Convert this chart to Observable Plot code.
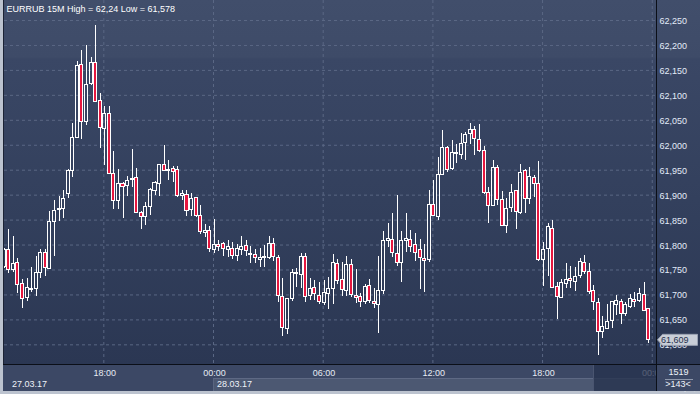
<!DOCTYPE html>
<html><head><meta charset="utf-8">
<script src="https://cdn.jsdelivr.net/npm/d3@7"></script>
<script src="https://cdn.jsdelivr.net/npm/@observablehq/plot@0.6"></script>
<style>
html,body{margin:0;padding:0;background:#bcc3cf;}
#chart{position:relative;width:700px;height:394px;overflow:hidden;background:#bcc3cf;font-family:"Liberation Sans",Arial,sans-serif;font-size:9px;}
.abs{position:absolute;box-sizing:border-box;}
.lbl{position:absolute;color:#eef2f8;font-size:9px;line-height:9px;white-space:nowrap;}
</style></head><body>
<div id="chart"></div>
<script>
// ---- data (EURRUB 15M candles, 27.03.17 12:30 -> 27.03/28.03 23:45) ----
const symbol = "EURRUB";
const timeframe = "15M";
const open = [61.757,61.791,61.749,61.765,61.721,61.693,61.709,61.711,61.743,61.785,
61.752,61.847,61.870,61.872,61.903,61.949,62.015,62.160,62.047,62.123,
62.165,62.088,62.033,62.063,61.943,61.889,61.923,61.919,61.930,61.935,
61.865,61.857,61.877,61.908,61.923,61.961,61.949,61.952,61.950,61.899,
61.901,61.871,61.894,61.858,61.825,61.829,61.791,61.800,61.803,61.791,
61.793,61.779,61.791,61.798,61.783,61.780,61.771,61.775,61.775,61.802,
61.775,61.695,61.631,61.691,61.743,61.740,61.777,61.697,61.713,61.698,
61.683,61.701,61.711,61.763,61.729,61.707,61.760,61.697,61.695,61.685,
61.717,61.685,61.679,61.708,61.809,61.811,61.783,61.765,61.809,61.811,
61.800,61.790,61.773,61.771,61.880,61.857,61.941,61.995,61.952,61.985,
61.981,62.005,62.023,62.031,62.011,61.989,61.905,61.879,61.955,61.890,
61.839,61.875,61.908,61.865,61.948,61.893,61.935,61.923,61.771,61.792,
61.833,61.716,61.693,61.721,61.731,61.725,61.737,61.765,61.745,61.707,
61.683,61.625,61.632,61.647,61.679,61.685,61.661,61.675,61.690,61.687,
61.700,61.671];
const high = [61.793,61.832,61.818,61.773,61.730,61.732,61.755,61.778,61.792,61.791,
61.867,61.889,61.898,61.909,61.951,62.044,62.168,62.189,62.200,62.175,
62.240,62.103,62.077,62.077,61.988,61.952,61.925,61.937,61.992,61.953,
61.868,61.885,61.913,61.927,61.962,62.000,61.969,61.958,61.958,61.910,
61.910,61.903,61.896,61.880,61.841,61.838,61.852,61.809,61.805,61.809,
61.805,61.801,61.818,61.809,61.798,61.791,61.793,61.800,61.818,61.814,
61.780,61.733,61.692,61.750,61.753,61.784,61.783,61.732,61.729,61.725,
61.729,61.735,61.781,61.772,61.765,61.778,61.771,61.750,61.703,61.721,
61.731,61.713,61.778,61.828,61.843,61.863,61.900,61.828,61.863,61.830,
61.823,61.812,61.801,61.910,61.930,61.975,62.030,61.997,62.010,62.002,
62.023,62.025,62.043,62.038,62.042,61.998,61.915,61.970,61.959,61.907,
61.893,61.922,61.909,61.962,61.952,61.956,61.940,61.967,61.805,61.843,
61.850,61.725,61.731,61.763,61.757,61.755,61.773,61.780,61.763,61.719,
61.693,61.657,61.681,61.687,61.699,61.690,61.685,61.701,61.705,61.712,
61.725,61.672];
const low = [61.753,61.742,61.745,61.703,61.673,61.687,61.705,61.697,61.733,61.737,
61.750,61.777,61.847,61.853,61.893,61.935,62.014,62.011,62.040,62.120,
62.085,61.993,61.960,61.942,61.871,61.871,61.853,61.897,61.915,61.864,
61.831,61.839,61.860,61.900,61.897,61.947,61.929,61.925,61.895,61.889,
61.858,61.858,61.856,61.822,61.815,61.785,61.783,61.787,61.777,61.775,
61.772,61.767,61.779,61.778,61.764,61.763,61.755,61.755,61.771,61.767,
61.685,61.617,61.620,61.687,61.715,61.713,61.685,61.689,61.689,61.680,
61.679,61.671,61.680,61.720,61.697,61.697,61.695,61.683,61.675,61.681,
61.683,61.673,61.623,61.701,61.795,61.775,61.757,61.725,61.785,61.785,
61.767,61.710,61.705,61.765,61.857,61.849,61.940,61.945,61.950,61.963,
61.971,61.970,62.001,61.979,61.985,61.902,61.843,61.877,61.879,61.837,
61.823,61.865,61.831,61.861,61.863,61.881,61.895,61.768,61.717,61.737,
61.712,61.651,61.692,61.712,61.713,61.707,61.732,61.740,61.701,61.669,
61.578,61.613,61.630,61.632,61.659,61.641,61.657,61.673,61.675,61.685,
61.666,61.602];
const close = [61.790,61.749,61.763,61.719,61.691,61.713,61.711,61.743,61.785,61.753,
61.847,61.869,61.872,61.893,61.948,62.015,62.158,62.047,62.121,62.165,
62.087,62.035,62.063,61.943,61.889,61.923,61.917,61.929,61.933,61.865,
61.857,61.877,61.910,61.925,61.961,61.949,61.951,61.947,61.899,61.903,
61.869,61.893,61.858,61.827,61.829,61.793,61.801,61.797,61.793,61.797,
61.779,61.793,61.797,61.789,61.780,61.775,61.775,61.776,61.803,61.777,
61.697,61.633,61.691,61.743,61.741,61.777,61.695,61.711,61.701,61.685,
61.703,61.711,61.765,61.727,61.709,61.761,61.699,61.693,61.685,61.715,
61.687,61.681,61.708,61.809,61.813,61.785,61.765,61.809,61.813,61.797,
61.785,61.775,61.769,61.881,61.859,61.941,61.995,61.951,61.985,61.983,
62.003,62.021,62.031,62.013,61.989,61.905,61.879,61.955,61.890,61.839,
61.873,61.905,61.867,61.945,61.893,61.937,61.923,61.771,61.791,61.836,
61.713,61.695,61.723,61.730,61.727,61.735,61.767,61.745,61.705,61.685,
61.625,61.635,61.645,61.685,61.688,61.661,61.680,61.691,61.685,61.701,
61.667,61.609];
const yTicks = [61.60,61.65,61.70,61.75,61.80,61.85,61.90,61.95,62.00,62.05,62.10,62.15,62.20,62.25];
const tickIndex = [22, 46, 70, 94, 118, 142];
const tickLabels = ["18:00","00:00","06:00","12:00","18:00","00:00"];
const dateLabels = ["27.03.17","28.03.17"];
const dateStartIndex = [-50, 46];
const barCountLabel = "1519";
const visibleLabel = ">143<";

// ---- chart ----
const RED = "#e5173f";
const candles = open.map((o, i) => ({i, open: o, high: high[i], low: low[i], close: close[i]}));
const bulls = candles.filter(d => d.close >= d.open);
const bears = candles.filter(d => d.close < d.open);
const fmt3 = v => v.toFixed(3).replace(".", ",");
const fmtShort = v => String(+v.toFixed(3)).replace(".", ",");
const title = `${symbol} ${timeframe} High = ${fmtShort(d3.max(high))} Low = ${fmtShort(d3.min(low))}`;
const gridColor = "#5a6784";

const chart = document.getElementById("chart");
function div(cls, style, text) {
  const e = document.createElement("div");
  e.className = cls; e.setAttribute("style", style);
  if (text != null) e.textContent = text;
  chart.appendChild(e); return e;
}
// backgrounds (below the svg)
div("abs", "left:3px;top:0;width:697px;height:364px;border-left:1px solid #1c2335;background:linear-gradient(to bottom,#414e6b 0px,#3e4b68 57px,#3a4765 59px,#33405d 200px,#2b3753 364px);");
div("abs", "left:3px;top:364px;width:697px;height:27px;background:#3c4865;");

const plot = Plot.plot({
  width: 700, height: 394,
  marginTop: 0, marginLeft: 4, marginRight: 44, marginBottom: 30,
  style: {background: "transparent", fontFamily: "Liberation Sans, Arial, sans-serif", fontSize: "9px", overflow: "visible"},
  x: {type: "linear", domain: [0.07, 142.73], axis: null},
  y: {domain: [61.5606, 62.2901], axis: null},
  marks: [
    Plot.gridY(yTicks, {stroke: gridColor, strokeOpacity: 1, strokeDasharray: "3,3"}),
    Plot.gridX(tickIndex, {stroke: gridColor, strokeOpacity: 1, strokeDasharray: "3,3", dx: -0.9}),
    Plot.ruleX(candles, {x: "i", y1: "high", y2: d => Math.max(d.open, d.close), stroke: "#ffffff", strokeWidth: 1, clip: true, shapeRendering: "crispEdges"}),
    Plot.ruleX(candles, {x: "i", y1: d => Math.min(d.open, d.close), y2: "low", stroke: "#ffffff", strokeWidth: 1, clip: true, shapeRendering: "crispEdges"}),
    Plot.rect(bulls, {x1: d => d.i - 0.33, x2: d => d.i + 0.33, y1: "open", y2: "close", fill: "none", stroke: "#ffffff", strokeWidth: 1, clip: true, shapeRendering: "crispEdges"}),
    Plot.rect(bears, {x1: d => d.i - 0.33, x2: d => d.i + 0.33, y1: "open", y2: "close", fill: RED, stroke: "#ffffff", strokeWidth: 1, clip: true, shapeRendering: "crispEdges"}),
    Plot.axisY(yTicks, {anchor: "right", tickSize: 0, tickPadding: 3, tickFormat: fmt3, fill: "#e3ebf8", fontSize: 9, dy: 0.6}),
    Plot.axisX(tickIndex, {anchor: "bottom", tickSize: 0, tickPadding: 5, tickFormat: d => tickLabels[tickIndex.indexOf(d)], fill: "#e6ebf3", fontSize: 9}),
    Plot.text([title], {frameAnchor: "top-left", text: d => d, dx: 2, dy: 5, lineAnchor: "top", textAnchor: "start", fill: "#ffffff", fontSize: 9})
  ]
});
plot.style.position = "absolute"; plot.style.left = "0"; plot.style.top = "0";

// date bands in the lower strip (below svg text)
const xs = plot.scale("x"), ys = plot.scale("y");
const plotLeft = 4, plotRight = 656;
dateStartIndex.forEach((s, k) => {
  const x0 = Math.max(3, Math.round(xs.apply(s) - 0.9));
  const x1 = k + 1 < dateStartIndex.length ? Math.round(xs.apply(dateStartIndex[k + 1]) - 0.9) : plotRight;
  if (k % 2 === 1) div("abs", `left:${x0}px;top:378px;width:${x1 - x0}px;height:13px;background:#4c5872;border-top:1px solid #5e6984;border-left:1px solid #5a6580;`);
});
chart.appendChild(plot);
dateStartIndex.forEach((s, k) => {
  const x0 = Math.max(plotLeft + 8, xs.apply(s) - 0.9 + 4);
  div("lbl", `left:${x0}px;top:380px;`, dateLabels[k]);
});

// overlays above svg
div("abs", "left:593px;top:365px;width:63px;height:26px;background:rgba(37,48,76,0.76);border-left:1px solid #4a5570;");
div("abs", "left:657px;top:365px;width:43px;height:26px;background:#3c4865;");
div("lbl", "left:657px;width:43px;text-align:center;top:368px;", barCountLabel);
div("abs", "left:665px;top:379px;width:28px;height:1px;background:#8e98ac;");
div("lbl", "left:657px;width:42px;text-align:center;top:380px;", visibleLabel);
// axis lines
div("abs", "left:3px;top:364px;width:697px;height:1px;background:#0b0f18;");
div("abs", "left:656px;top:0;width:1px;height:391px;background:#0b0f18;");

// last price marker
const last = close[close.length - 1];
const yc = ys.apply(last);
const svgNS = "http://www.w3.org/2000/svg";
const mk = document.createElementNS(svgNS, "svg");
mk.setAttribute("width", 700); mk.setAttribute("height", 394);
mk.setAttribute("style", "position:absolute;left:0;top:0;");
const g = d3.select(mk);
g.append("path")
  .attr("d", `M657.5,${yc} L662.5,${yc - 5.5} L697.5,${yc - 5.5} L697.5,${yc + 5.5} L662.5,${yc + 5.5} Z`)
  .attr("fill", "#c9ced7").attr("stroke", "#9aa2b3").attr("stroke-width", 1);
g.append("text").attr("x", 661).attr("y", yc + 3.4)
  .attr("font-family", "Liberation Sans, Arial, sans-serif").attr("font-size", 9)
  .attr("fill", "#26314d").text(fmt3(last));
chart.appendChild(mk);
</script>
</body></html>
